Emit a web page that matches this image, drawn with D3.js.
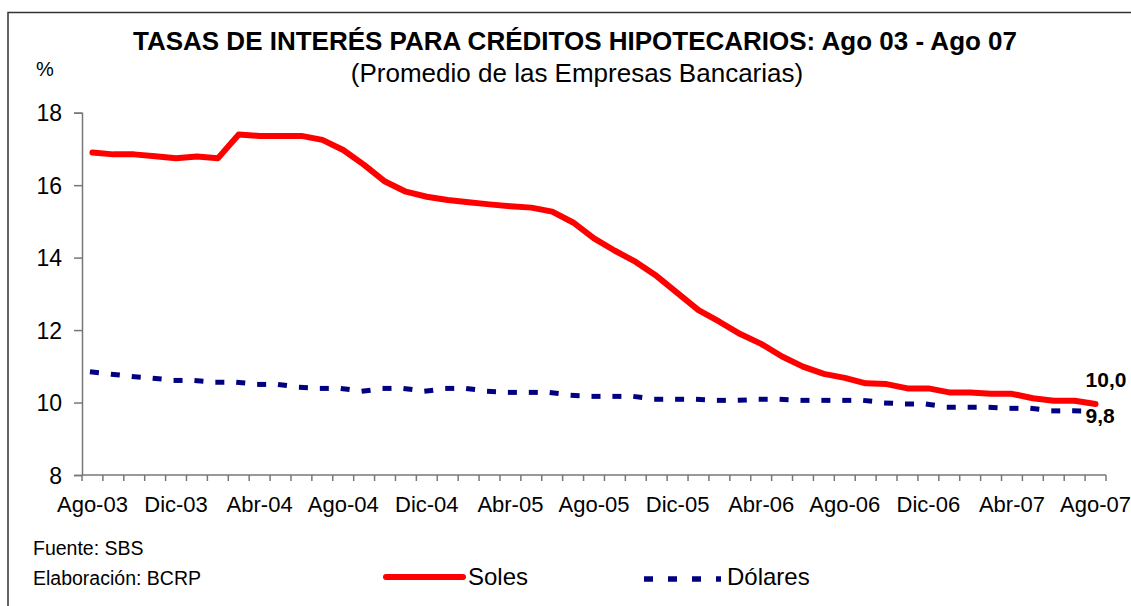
<!DOCTYPE html>
<html>
<head>
<meta charset="utf-8">
<script src="https://cdn.jsdelivr.net/npm/d3@7"></script>
<style>
  body { margin: 0; background: #fff; }
  svg { display: block; font-family: Arial, "Liberation Sans", sans-serif; }
</style>
</head>
<body>
<div id="graphic"></div>
<script>
//categories (monthly, Ago-03 .. Ago-07)
var months = ["Ago-03","Set-03","Oct-03","Nov-03","Dic-03","Ene-04","Feb-04","Mar-04","Abr-04","May-04","Jun-04","Jul-04",
    "Ago-04","Set-04","Oct-04","Nov-04","Dic-04","Ene-05","Feb-05","Mar-05","Abr-05","May-05","Jun-05","Jul-05",
    "Ago-05","Set-05","Oct-05","Nov-05","Dic-05","Ene-06","Feb-06","Mar-06","Abr-06","May-06","Jun-06","Jul-06",
    "Ago-06","Set-06","Oct-06","Nov-06","Dic-06","Ene-07","Feb-07","Mar-07","Abr-07","May-07","Jun-07","Jul-07",
    "Ago-07"];

//series values (%)
var soles = [16.90,16.85,16.85,16.80,16.74,16.79,16.74,17.40,17.36,17.36,17.36,17.25,
    16.97,16.56,16.10,15.82,15.68,15.59,15.53,15.47,15.42,15.38,15.27,14.97,
    14.53,14.19,13.88,13.49,13.02,12.55,12.23,11.89,11.62,11.27,10.99,10.79,
    10.68,10.53,10.51,10.39,10.39,10.28,10.28,10.24,10.24,10.12,10.05,10.05,
    9.96];

var dolares = [10.85,10.78,10.72,10.67,10.61,10.61,10.56,10.56,10.50,10.50,10.42,10.39,
    10.39,10.31,10.39,10.39,10.31,10.39,10.39,10.31,10.28,10.28,10.28,10.20,
    10.17,10.17,10.17,10.09,10.09,10.09,10.06,10.06,10.09,10.09,10.06,10.06,
    10.06,10.06,9.99,9.96,9.96,9.87,9.87,9.87,9.84,9.84,9.77,9.77,
    9.76];

//tick labels
var xTickLabels = ["Ago-03","Dic-03","Abr-04","Ago-04","Dic-04","Abr-05","Ago-05","Dic-05","Abr-06","Ago-06","Dic-06","Abr-07","Ago-07"];
var yTicks = [8, 10, 12, 14, 16, 18];

var width = 1131, height = 606;
var margin = {top: 112.7, left: 82, right: 25, bottom: 131};

var svg = d3.select("#graphic").append("svg")
    .attr("width", width)
    .attr("height", height);

//frame (top and left edges only)
svg.append("path")
    .attr("d", "M8,606 L8,12.5 L1131,12.5")
    .attr("fill", "none")
    .attr("stroke", "#333")
    .attr("stroke-width", 1.5);

var x = d3.scaleBand()
    .domain(months)
    .range([margin.left, width - margin.right])
    .padding(0);

var y = d3.scaleLinear()
    .domain([8, 18])
    .range([height - margin.bottom, margin.top]);

function cx(i) { return x(months[i]) + x.bandwidth() / 2; }

//y axis
var yAxis = svg.append("g")
    .attr("transform", "translate(" + margin.left + ",0)")
    .call(d3.axisLeft(y).tickValues(yTicks).tickSize(8).tickPadding(12).tickFormat(d3.format("d")));

yAxis.select(".domain").attr("stroke", "#777").attr("stroke-width", 1.5);
yAxis.selectAll(".tick line").attr("stroke", "#777").attr("stroke-width", 1.5);
yAxis.selectAll(".tick text")
    .attr("fill", "#000")
    .style("font-size", "23px")
    .attr("dy", "0.36em");

//x axis: tick marks on category boundaries, labels every 4 months
var xg = svg.append("g")
    .attr("transform", "translate(0," + y(8) + ")");

xg.append("line")
    .attr("x1", x.range()[0]).attr("x2", x.range()[1])
    .attr("stroke", "#777").attr("stroke-width", 1.5);

xg.selectAll("line.tk")
    .data(months.concat(["end"]))
    .enter().append("line")
        .attr("class", "tk")
        .attr("x1", function(d, i) { return x.range()[0] + i * x.bandwidth(); })
        .attr("x2", function(d, i) { return x.range()[0] + i * x.bandwidth(); })
        .attr("y1", 0).attr("y2", 6)
        .attr("stroke", "#777").attr("stroke-width", 1.5);

xg.selectAll("text")
    .data(xTickLabels)
    .enter().append("text")
        .attr("x", function(d) { return x(d) + x.bandwidth() / 2; })
        .attr("y", 37)
        .attr("text-anchor", "middle")
        .style("font-size", "22px")
        .text(function(d) { return d; });

//soles line
var line = d3.line()
    .x(function(d, i) { return cx(i); })
    .y(function(d) { return y(d); });

svg.append("path")
    .datum(soles)
    .attr("d", line)
    .attr("fill", "none")
    .attr("stroke", "#ff0000")
    .attr("stroke-width", 6)
    .attr("stroke-linejoin", "round")
    .attr("stroke-linecap", "round");

//dolares: dash pattern restarts on each segment
var segs = d3.pairs(dolares.map(function(d, i) { return [cx(i), y(d)]; }));

svg.append("g").selectAll("line")
    .data(segs)
    .enter().append("line")
        .attr("x1", function(d) { return d[0][0] - 2.5; })
        .attr("y1", function(d) { return d[0][1]; })
        .attr("x2", function(d) { return d[1][0]; })
        .attr("y2", function(d) { return d[1][1]; })
        .attr("stroke", "#000080")
        .attr("stroke-width", 5)
        .attr("stroke-dasharray", "9,40");

//end labels
var last = months.length - 1;
svg.append("text")
    .attr("x", cx(last) - 10)
    .attr("y", y(soles[last]) - 17)
    .style("font-size", "21px").style("font-weight", "bold")
    .text(d3.format(".1f")(soles[last]).replace(".", ","));

svg.append("text")
    .attr("x", cx(last) - 10)
    .attr("y", y(dolares[last]) + 12)
    .style("font-size", "21px").style("font-weight", "bold")
    .text(d3.format(".1f")(dolares[last]).replace(".", ","));

//titles
svg.append("text")
    .attr("x", 575).attr("y", 50)
    .attr("text-anchor", "middle")
    .style("font-size", "26px").style("font-weight", "bold")
    .text("TASAS DE INTERÉS PARA CRÉDITOS HIPOTECARIOS: Ago 03 - Ago 07");

svg.append("text")
    .attr("x", 577).attr("y", 82)
    .attr("text-anchor", "middle")
    .style("font-size", "26px")
    .text("(Promedio de las Empresas Bancarias)");

svg.append("text")
    .attr("x", 36).attr("y", 76)
    .style("font-size", "20px")
    .text("%");

//source notes
svg.append("text")
    .attr("x", 33).attr("y", 555)
    .style("font-size", "19.5px")
    .text("Fuente: SBS");

svg.append("text")
    .attr("x", 33).attr("y", 585)
    .style("font-size", "19.5px")
    .text("Elaboración: BCRP");

//legend
var legend = svg.append("g").attr("class", "legend");

legend.append("line")
    .attr("x1", 386).attr("x2", 463)
    .attr("y1", 577).attr("y2", 577)
    .attr("stroke", "#ff0000").attr("stroke-width", 6)
    .attr("stroke-linecap", "round");

legend.append("line")
    .attr("x1", 644).attr("x2", 721)
    .attr("y1", 579).attr("y2", 579)
    .attr("stroke", "#000080").attr("stroke-width", 5.5)
    .attr("stroke-dasharray", "9,15");

legend.selectAll("text")
    .data([["Soles", 468], ["Dólares", 727]])
    .enter().append("text")
        .attr("x", function(d) { return d[1]; })
        .attr("y", 585)
        .style("font-size", "24px")
        .text(function(d) { return d[0]; });
</script>
</body>
</html>
